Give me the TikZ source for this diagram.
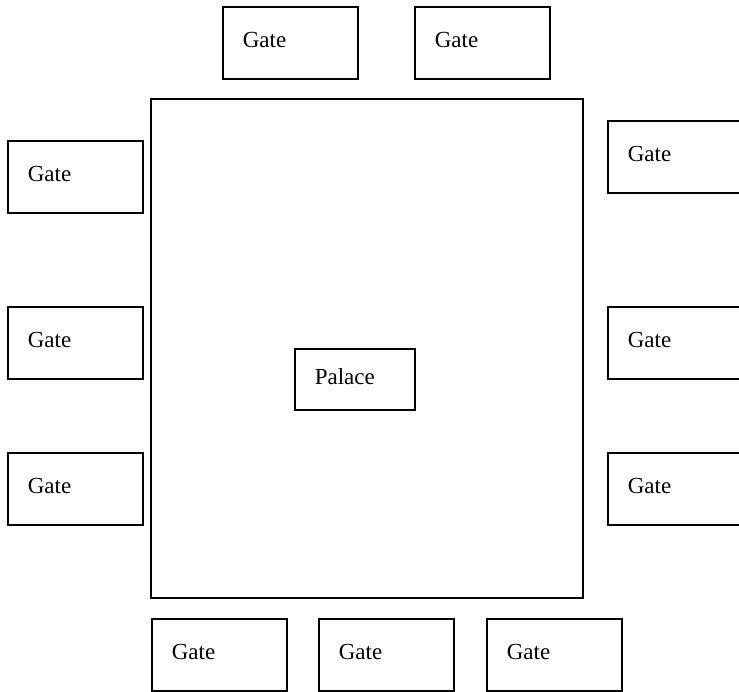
\documentclass[tikz,border=0pt]{standalone}
\usepackage{fontspec}
\setmainfont{Liberation Serif}
\newfontfamily\labelfont{Liberation Serif}
\begin{document}
\begin{tikzpicture}[x=1pt,y=-1pt,
  box/.style={draw, line width=1.6pt, rectangle, anchor=north west,
    inner xsep=20pt, inner ysep=0pt, align=left, text depth=5pt,
    font=\labelfont\fontsize{23}{27}\selectfont},
  gate/.style={box, text width=95pt, minimum height=72pt},
  palace/.style={box, text width=80pt, minimum height=61pt}]
\useasboundingbox (0,0) rectangle (739,692);
\clip (0,0) rectangle (739,692);
% city wall
\node[draw, line width=1.6pt, rectangle, anchor=north west,
      minimum width=432pt, minimum height=499pt, inner sep=0pt] (wall) at (150,98) {};
% palace in the centre
\node[palace] (palace) at (294,348) {Palace};
% top gates
\node[gate] (gt1) at (222,6) {Gate};
\node[gate] (gt2) at (414,6) {Gate};
% left gates
\node[gate] (gl1) at (7,140) {Gate};
\node[gate] (gl2) at (7,306) {Gate};
\node[gate] (gl3) at (7,452) {Gate};
% right gates
\node[gate] (gr1) at (607,120) {Gate};
\node[gate] (gr2) at (607,306) {Gate};
\node[gate] (gr3) at (607,452) {Gate};
% bottom gates
\node[gate] (gb1) at (151,618) {Gate};
\node[gate] (gb2) at (318,618) {Gate};
\node[gate] (gb3) at (486,618) {Gate};
\end{tikzpicture}
\end{document}
